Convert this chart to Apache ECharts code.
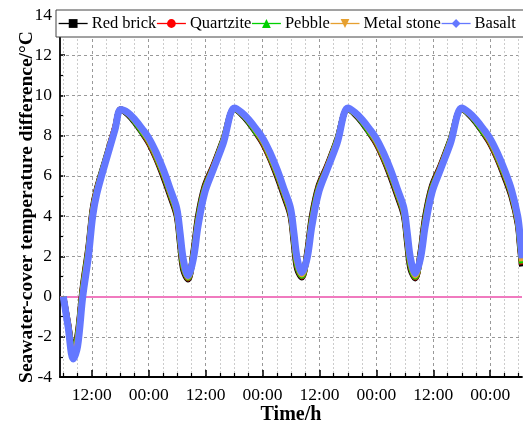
<!DOCTYPE html>
<html>
<head>
<meta charset="utf-8">
<script src="https://cdn.jsdelivr.net/npm/echarts@6/dist/echarts.min.js"></script>
<style>html,body{margin:0;padding:0;background:#fff}#c{width:523px;height:426px}</style>
</head>
<body>
<div id="c"></div>
<script>
// time in hours (0 = 00:00 of day 1)
var timeH = [6,7,8.1,9,10.1,11.3,12.2,13.05,14.8,16.9,18.1,
19.6,21.1,22.6,24.1,25.6,27.1,28.6,29.9,30.6,31.3,32.3,33.4,34.4,35.8,37.6,39.7,42.1,
43.6,45.1,46.6,48.1,49.6,51.1,52.6,53.9,54.6,55.3,56.3,57.4,58.4,59.8,61.6,63.7,66.0,
67.5,69,70.5,72,73.5,75,76.5,77.8,78.5,79.2,80.2,81.3,82.3,83.7,85.5,87.6,90.0,
91.5,93,94.5,96,97.5,99,100.5,101.8,102.3,102.7];

var redBrick = [0,-1.3,-2.7,-1.9,0.5,2.5,4.4,5.35,6.75,8.4,9.3,
9.05,8.65,8.15,7.6,6.85,5.95,4.95,4.0,2.6,1.3,0.85,2.2,4.0,5.5,6.5,7.8,9.32,
9.05,8.65,8.15,7.6,6.85,5.95,4.95,4.0,2.6,1.35,0.95,2.2,4.0,5.5,6.5,7.8,9.32,
9.05,8.65,8.15,7.6,6.85,5.95,4.95,4.0,2.6,1.35,0.9,2.2,4.0,5.5,6.5,7.8,9.32,
9.05,8.65,8.15,7.6,6.85,5.95,4.95,3.6,2.4,1.5];

var quartzite = [0,-1.35,-2.8,-2.0,0.4,2.4,4.3,5.3,6.7,8.4,9.3,
9.1,8.7,8.2,7.65,6.9,6.05,5.05,4.1,2.8,1.45,0.9,2.1,3.85,5.4,6.45,7.75,9.33,
9.1,8.7,8.2,7.65,6.9,6.05,5.05,4.1,2.8,1.5,1.0,2.1,3.85,5.4,6.45,7.75,9.33,
9.1,8.7,8.2,7.65,6.9,6.05,5.05,4.1,2.8,1.5,0.95,2.1,3.85,5.4,6.45,7.75,9.33,
9.1,8.7,8.2,7.65,6.9,6.05,5.05,3.7,2.55,1.6];

var pebble = [0,-1.4,-2.8,-2.05,0.35,2.35,4.25,5.25,6.7,8.35,9.3,
9.1,8.7,8.2,7.7,6.95,6.1,5.1,4.15,2.85,1.5,0.93,2.05,3.8,5.35,6.4,7.75,9.33,
9.1,8.7,8.2,7.7,6.95,6.1,5.1,4.15,2.85,1.55,1.03,2.05,3.8,5.35,6.4,7.75,9.33,
9.1,8.7,8.2,7.7,6.95,6.1,5.1,4.15,2.85,1.55,0.98,2.05,3.8,5.35,6.4,7.75,9.33,
9.1,8.7,8.2,7.7,6.95,6.1,5.1,3.75,2.6,1.65];

var metalStone = [0,-1.45,-2.9,-2.2,0.2,2.2,4.15,5.2,6.65,8.35,9.3,
9.12,8.75,8.28,7.75,7.03,6.18,5.18,4.25,3.0,1.65,0.98,1.95,3.65,5.25,6.35,7.7,9.35,
9.12,8.75,8.28,7.75,7.03,6.18,5.18,4.25,3.0,1.7,1.1,1.95,3.65,5.25,6.35,7.7,9.35,
9.12,8.75,8.28,7.75,7.03,6.18,5.18,4.25,3.0,1.7,1.05,1.95,3.65,5.25,6.35,7.7,9.35,
9.12,8.75,8.28,7.75,7.03,6.18,5.18,3.85,2.8,1.75];

var basalt = [0,-1.5,-3.1,-2.5,0,2.0,4.0,5.1,6.6,8.3,9.3,
9.15,8.8,8.35,7.85,7.15,6.3,5.3,4.4,3.2,1.85,1.05,1.85,3.5,5.15,6.3,7.6,9.37,
9.15,8.8,8.35,7.85,7.15,6.3,5.3,4.4,3.2,1.9,1.2,1.9,3.5,5.15,6.3,7.6,9.37,
9.15,8.8,8.35,7.85,7.15,6.3,5.3,4.4,3.2,1.9,1.15,1.9,3.5,5.15,6.3,7.6,9.37,
9.15,8.8,8.35,7.85,7.15,6.3,5.3,4.0,3.0,1.9];

var seriesNames = ['Red brick','Quartzite','Pebble','Metal stone','Basalt'];
var seriesValues = [redBrick, quartzite, pebble, metalStone, basalt];
var seriesColors = ['#000000','#FF0000','#00D000','#E6A030','#6478FF'];
var seriesSymbols = ['rect','circle','triangle','path://M0,0 L10,0 L5,9 Z','diamond'];

var majorTicks = [12,24,36,48,60,72,84,96];
var minorTicks = [6,9,15,18,21,27,30,33,39,42,45,51,54,57,63,66,69,75,78,81,87,90,93,99,102];
var zeroLine = 0;

var xMin = 5.3, xMax = 102.7;
var font = 'Liberation Serif';

var chart = echarts.init(document.getElementById('c'), null, {renderer:'canvas'});

var series = seriesNames.map(function(n, k){
  var s = {
    name: n, type: 'line', xAxisIndex: 0, yAxisIndex: 0,
    data: timeH.map(function(t,i){return [t, seriesValues[k][i]];}),
    smooth: 0.35,
    showSymbol: false,
    symbol: seriesSymbols[k],
    symbolSize: 9,
    color: seriesColors[k],
    lineStyle: {color: seriesColors[k], width: k === 4 ? 7 : 6},
    itemStyle: {color: seriesColors[k]},
    z: 3 + k,
    animation: false
  };
  if (k === 0) {
    s.markLine = {
      silent: true, symbol: ['none','none'], label: {show:false},
      lineStyle: {color:'#F07ABF', width: 2, type:'solid'},
      data: [{yAxis: zeroLine}],
      z: 2
    };
  }
  return s;
});

chart.setOption({
  animation: false,
  backgroundColor: '#fff',
  grid: {left: 60, right: 1, top: 15, bottom: 49, containLabel: false, outerBoundsMode: 'none'},
  legend: {
    data: seriesNames,
    left: 56, top: 10, width: 520,
    itemGap: 0, itemWidth: 29, itemHeight: 11,
    padding: [5, 8, 5, 2],
    backgroundColor: '#fff',
    borderColor: '#444', borderWidth: 1,
    textStyle: {fontFamily: font, fontSize: 16.5, color: '#000', padding: [0,0,0,-1]},
    lineStyle: {width: 1.3},
    z: 10
  },
  xAxis: [{
    type: 'value', min: xMin, max: xMax,
    name: 'Time/h', nameLocation: 'middle', nameGap: 28, nameMoveOverlap: false,
    nameTextStyle: {fontFamily: font, fontSize: 20, fontWeight: 'bold', color: '#000'},
    axisLine: {show: true, onZero: false, lineStyle: {color: '#000', width: 1.8}},
    axisTick: {show: true, inside: true, length: 7, customValues: majorTicks, lineStyle: {color:'#000', width: 1.5}},
    axisLabel: {show: true, customValues: majorTicks, margin: 9, fontFamily: font, fontSize: 17.5, color: '#000',
      formatter: function(v){ return (Math.round(v) % 24 === 12) ? '12:00' : '00:00'; }},
    splitLine: {show: true, lineStyle: {color: '#999', type: [3,3], width: 1}},
    z: 1
  },{
    type: 'value', min: xMin, max: xMax, position: 'bottom', offset: 0,
    axisLine: {show: false, onZero: false},
    axisTick: {show: true, inside: true, length: 4, customValues: minorTicks, lineStyle: {color:'#000', width: 1.2}},
    axisLabel: {show: false, customValues: minorTicks},
    splitLine: {show: true, lineStyle: {color: '#ccc', type: [2,2], width: 1}},
    z: 1
  }],
  yAxis: {
    type: 'value', min: -4, max: 14, interval: 2,
    name: 'Seawater-cover temperature difference/°C', nameLocation: 'middle', nameGap: 23, nameMoveOverlap: false,
    nameTextStyle: {fontFamily: font, fontSize: 19.5, fontWeight: 'bold', color: '#000', padding: [0, 22, 0, 0]},
    axisLine: {show: true, onZero: false, lineStyle: {color: '#000', width: 1.8}},
    axisTick: {show: true, inside: true, length: 5, lineStyle: {color:'#000', width: 1.5}},
    minorTick: {show: true, splitNumber: 2, length: 3, lineStyle: {color:'#000', width: 1.2}},
    axisLabel: {margin: 8, fontFamily: font, fontSize: 17.5, color: '#000'},
    splitLine: {show: true, lineStyle: {color: '#999', type: [3,3], width: 1}}
  },
  series: series
});
</script>
</body>
</html>
